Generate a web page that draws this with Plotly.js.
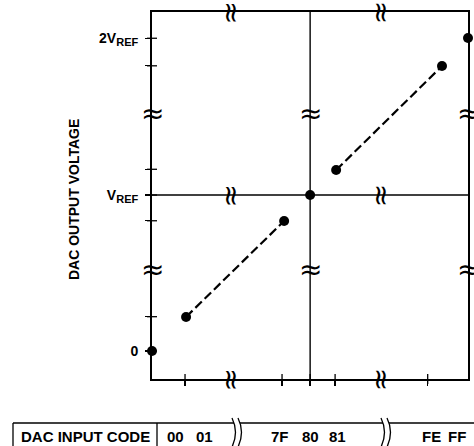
<!DOCTYPE html>
<html>
<head>
<meta charset="utf-8">
<script src="https://cdn.plot.ly/plotly-3.0.1.min.js"></script>
<style>html,body{margin:0;padding:0;background:#fff;}</style>
</head>
<body>
<div id="chart" style="width:474px;height:446px;"></div>
<script>
// ---- data (positions on the broken axes, in axis units) ----
const codes = ['00', '01', '7F', '80', '81', 'FE', 'FF'];
const codePos = [0, 1.31, 5.08, 6.08, 7.08, 11.15, 12.15];
const outLevel = [0, 1.31, 5.0, 6.0, 6.96, 10.96, 12.04];
const xTickVals = [1.27, 5.0, 6.08, 7.04, 10.6];
const yTickVals = [0, 1.32, 5.01, 6.0, 6.99, 10.97, 12.03];
const yTickText = ['0', '', '', 'V<sub><span style="font-size:11px">REF</span></sub>', '', '', '2V<sub><span style="font-size:11px">REF</span></sub>'];
const tableLabelPos = [0.92, 2.0, 4.92, 6.08, 7.15, 10.73, 11.73];
const xBreaks = [3.08, 8.85];
const yBreaks = [3.12, 9.15];

// ---- geometry helpers for layout decorations ----
const L = 152, R = 468, T = 12, B = 379;
const PX = p => (p - L) / (R - L);
const PY = p => (B - p) / (B - T);
const FONT = 'Liberation Sans, Arial, Helvetica, sans-serif';

// dashed segments 01->7F and 81->FE
const segX = [codePos[1], codePos[2], null, codePos[4], codePos[5]];
const segY = [outLevel[1], outLevel[2], null, outLevel[4], outLevel[5]];

const traces = [
  {x: segX, y: segY, type: 'scatter', mode: 'lines', connectgaps: false,
   line: {color: '#000', width: 2.2, dash: '9px,4px'}, hoverinfo: 'skip', cliponaxis: false},
  {x: codePos, y: outLevel, type: 'scatter', mode: 'markers', text: codes,
   marker: {color: '#000', size: 10}, cliponaxis: false}
];

const shapes = [];
// mid lines (code 80 and VREF)
shapes.push({type: 'line', xref: 'x', yref: 'paper', x0: codePos[3], x1: codePos[3], y0: 0, y1: 1, line: {color: '#000', width: 1.4}});
shapes.push({type: 'line', xref: 'paper', yref: 'y', x0: 0, x1: 1, y0: outLevel[3], y1: outLevel[3], line: {color: '#000', width: 1.4}});
// crossing ticks (inside halves)
xTickVals.forEach(v => shapes.push({type: 'line', xref: 'x', yref: 'paper', x0: v, x1: v,
  ysizemode: 'pixel', yanchor: 0, y0: -5, y1: 5, line: {color: '#000', width: 1.3}}));
yTickVals.forEach(v => shapes.push({type: 'line', yref: 'y', xref: 'paper', y0: v, y1: v,
  xsizemode: 'pixel', xanchor: 0, x0: -5, x1: 5, line: {color: '#000', width: 1.3}}));

// table
const tl = {color: '#000', width: 1.3};
function seg(x0, y0, x1, y1) { shapes.push({type: 'line', xref: 'paper', yref: 'paper', x0: PX(x0), y0: PY(y0), x1: PX(x1), y1: PY(y1), line: tl}); }
seg(13, 423, 234, 423);
seg(240, 423, 383, 423);
seg(389, 423, 480, 423);
seg(13, 423, 13, 450);
seg(157, 423, 157, 450);
function wave(x) {
  const p = 'M ' + PX(x) + ' ' + PY(418) + ' Q ' + PX(x + 7) + ' ' + PY(432) + ' ' + PX(x) + ' ' + PY(447);
  shapes.push({type: 'path', xref: 'paper', yref: 'paper', path: p, line: tl});
}
wave(232); wave(238); wave(381); wave(387);

const annotations = [];
// axis title
annotations.push({xref: 'paper', yref: 'paper', x: PX(74), y: PY(200), xanchor: 'center', yanchor: 'middle',
  text: 'DAC OUTPUT VOLTAGE', textangle: -90, showarrow: false,
  font: {family: FONT, size: 14, color: '#000', weight: 700}});
// table labels
annotations.push({xref: 'paper', yref: 'paper', x: PX(85), y: PY(436.5), xanchor: 'center', yanchor: 'middle',
  text: 'DAC INPUT CODE', showarrow: false, font: {family: FONT, size: 15, color: '#000', weight: 700}});
codes.forEach((c, i) => annotations.push({xref: 'x', yref: 'paper', x: tableLabelPos[i], y: PY(436.5),
  xanchor: 'center', yanchor: 'middle', text: c,
  showarrow: false, font: {family: FONT, size: 15, color: '#000', weight: 700}}));
// axis break marks
const bf = {family: 'DejaVu Sans, sans-serif', size: 28, color: '#000'};
[0, codePos[3], 12.15].forEach(xv => yBreaks.forEach(yv => annotations.push({xref: 'x', yref: 'y', x: xv, y: yv,
  xanchor: 'center', yanchor: 'middle', text: '≈', showarrow: false, font: bf})));
[13.04, outLevel[3], -1.077].forEach(yv => xBreaks.forEach(xv => annotations.push({xref: 'x', yref: 'y', x: xv, y: yv,
  xanchor: 'center', yanchor: 'middle', text: '≈', textangle: 90, showarrow: false, font: bf})));

const layout = {
  width: 474, height: 446,
  margin: {l: L, r: 474 - R, t: T, b: 446 - B, pad: 0},
  paper_bgcolor: '#fff', plot_bgcolor: '#fff',
  showlegend: false,
  xaxis: {range: [0, 12.15], showline: true, mirror: true, linewidth: 2, linecolor: '#000',
    ticks: 'outside', ticklen: 5, tickwidth: 1.3, tickcolor: '#000', tickvals: xTickVals,
    showticklabels: false, showgrid: false, zeroline: false, fixedrange: true},
  yaxis: {range: [-1.077, 13.04], showline: true, mirror: true, linewidth: 2, linecolor: '#000',
    ticks: 'outside', ticklen: 5, tickwidth: 1.3, tickcolor: '#000', tickvals: yTickVals, ticktext: yTickText,
    tickfont: {family: FONT, size: 14, color: '#000', weight: 700}, ticklabelstandoff: 4,
    showgrid: false, zeroline: false, fixedrange: true},
  shapes: shapes,
  annotations: annotations
};

Plotly.newPlot('chart', traces, layout, {displayModeBar: false, staticPlot: true});
</script>
</body>
</html>
